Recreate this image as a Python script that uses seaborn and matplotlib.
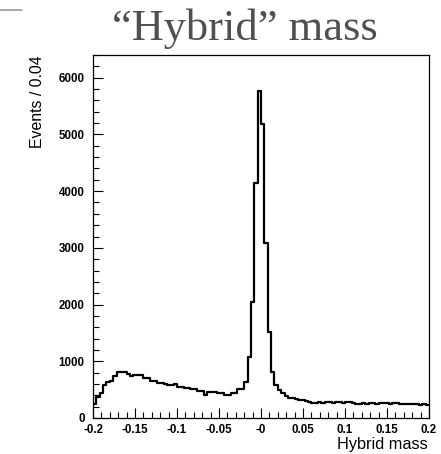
import numpy as np
import pandas as pd
import matplotlib
matplotlib.use("Agg")
import matplotlib.pyplot as plt
import seaborn as sns
from matplotlib.lines import Line2D
from matplotlib.ticker import MultipleLocator

# ---- data: 100 bins from -0.2 to 0.2 ----
x_min, x_max, n_bins = -0.2, 0.2, 100
counts = [
    242, 377, 436, 583, 642, 650, 742, 819, 815, 810,
    777, 740, 754, 754, 750, 701, 713, 654, 654, 612,
    612, 595, 583, 583, 595, 554, 554, 536, 536, 506,
    506, 471, 471, 406, 465, 465, 465, 448, 448, 406,
    406, 436, 436, 506, 506, 642, 1084, 2037, 4150, 5765,
    5177, 3090, 1525, 818, 583, 495, 436, 394, 348, 348,
    330, 320, 310, 300, 290, 270, 265, 280, 270, 285,
    280, 270, 290, 275, 265, 280, 275, 260, 255, 250,
    260, 255, 270, 265, 255, 265, 270, 260, 250, 260,
    270, 255, 250, 255, 245, 240, 240, 235, 240, 235,
]
xtick_vals = [-0.2, -0.15, -0.1, -0.05, 0.0, 0.05, 0.1, 0.15, 0.2]
xtick_labels = ["-0.2", "-0.15", "-0.1", "-0.05", "-0", "0.05", "0.1", "0.15", "0.2"]
ytick_vals = [0, 1000, 2000, 3000, 4000, 5000, 6000]
title_text = "\u201cHybrid\u201d mass"
xlabel_text = "Hybrid mass"
ylabel_text = "Events / 0.04"

edges = np.linspace(x_min, x_max, n_bins + 1)
centers = 0.5 * (edges[:-1] + edges[1:])
df = pd.DataFrame({"x": centers, "w": counts})

sns.set_style("white")
plt.rcParams["font.family"] = ["Liberation Sans", "DejaVu Sans"]
plt.rcParams["text.color"] = "black"

fig = plt.figure(figsize=(4.41, 4.54), dpi=100)
W, H = 441, 454
ax = fig.add_axes([93 / W, 1 - 418 / H, (429 - 93) / W, (418 - 55) / H])

sns.histplot(data=df, x="x", weights="w", bins=[float(e) for e in edges],
             element="step", fill=False, color="black", linewidth=1.6, ax=ax)

ax.set_xlim(x_min, x_max)
ax.set_ylim(0, 6400)
ax.set_xticks(xtick_vals)
ax.set_xticklabels(xtick_labels)
ax.set_yticks(ytick_vals)
ax.xaxis.set_minor_locator(MultipleLocator(0.01))
ax.yaxis.set_minor_locator(MultipleLocator(200))
ax.tick_params(axis="both", which="major", direction="in", length=7, width=0.8,
               labelsize=8.3, colors="black")
ax.tick_params(axis="both", which="minor", direction="in", length=4, width=0.8,
               colors="black")
ax.tick_params(top=False, right=False, bottom=True, left=True, which="both")
ax.tick_params(axis="x", pad=4)
ax.tick_params(axis="y", pad=6)
for lab in ax.get_xticklabels() + ax.get_yticklabels():
    lab.set_fontweight("bold")
for sp in ax.spines.values():
    sp.set_visible(True)
    sp.set_color("black")
    sp.set_linewidth(0.9)

ax.set_xlabel("")
ax.set_ylabel("")
fig.text(428 / W, 1 - 449 / H, xlabel_text, ha="right", va="baseline", fontsize=11.7,
         color="black")
fig.text(37 / W, 1 - 55 / H, ylabel_text, ha="center", va="top", rotation=90, fontsize=11.4,
         color="black")
fig.text(245 / W, 1 - 40 / H, title_text, ha="center", va="baseline", fontsize=32,
         family=["Liberation Serif", "DejaVu Serif"], color="#505050")
fig.add_artist(Line2D([0, 22 / W], [1 - 10 / H, 1 - 10 / H], color="#999999", linewidth=1.2))

fig.savefig("out.png", dpi=100)
